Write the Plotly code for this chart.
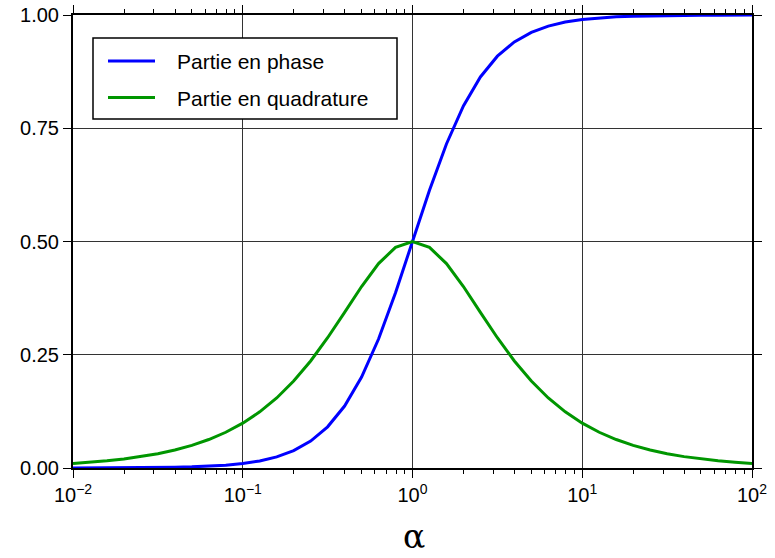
import plotly.graph_objects as go

# alpha values (10 samples per decade, 1e-2 .. 1e2)
alpha = [0.01, 0.01259, 0.01585, 0.01995, 0.02512, 0.03162, 0.03981, 0.05012, 0.0631, 0.07943,
         0.1, 0.1259, 0.1585, 0.1995, 0.2512, 0.3162, 0.3981, 0.5012, 0.631, 0.7943,
         1.0, 1.259, 1.585, 1.995, 2.512, 3.162, 3.981, 5.012, 6.31, 7.943,
         10.0, 12.59, 15.85, 19.95, 25.12, 31.62, 39.81, 50.12, 63.1, 79.43, 100.0]

phase = [0.0001, 0.00016, 0.00025, 0.0004, 0.00063, 0.001, 0.0016, 0.0025, 0.004, 0.0063,
         0.0099, 0.0156, 0.0245, 0.0383, 0.0594, 0.0909, 0.1368, 0.2008, 0.2847, 0.3869,
         0.5, 0.6131, 0.7153, 0.7992, 0.8632, 0.9091, 0.9406, 0.9617, 0.9755, 0.9844,
         0.9901, 0.9937, 0.996, 0.9975, 0.9984, 0.999, 0.9994, 0.9996, 0.9997, 0.9998, 0.9999]

quad = [0.01, 0.0126, 0.0158, 0.0199, 0.0251, 0.0316, 0.0398, 0.05, 0.0629, 0.0789,
        0.099, 0.1239, 0.1546, 0.1919, 0.2363, 0.2875, 0.3436, 0.4006, 0.4513, 0.487,
        0.5, 0.487, 0.4513, 0.4006, 0.3436, 0.2875, 0.2363, 0.1919, 0.1546, 0.1239,
        0.099, 0.0789, 0.0629, 0.05, 0.0398, 0.0316, 0.0251, 0.0199, 0.0158, 0.0126, 0.01]

series_names = ["Partie en phase", "Partie en quadrature"]
series_colors = ["#0000ff", "#009600"]

x_tickvals = [0.01, 0.1, 1, 10, 100]
x_ticktext = ["10<sup>\u22122</sup>", "10<sup>\u22121</sup>", "10<sup>0</sup>", "10<sup>1</sup>", "10<sup>2</sup>"]
x_minor = [m * d for d in [0.01, 0.1, 1, 10] for m in range(2, 10)]
y_tickvals = [0, 0.25, 0.5, 0.75, 1.0]
y_ticktext = ["0.00", "0.25", "0.50", "0.75", "1.00"]

fig = go.Figure()
for ys, name, col in zip([phase, quad], series_names, series_colors):
    fig.add_trace(go.Scatter(x=alpha, y=ys, mode="lines", name=name,
                             line=dict(color=col, width=3), showlegend=False))

W, H = 775, 558
L, R, T, B = 73, 752, 15, 468
pw, ph = R - L, B - T
def px(x):
    return (x - L) / pw
def py(y):
    return (B - y) / ph

fig.update_layout(
    width=W, height=H,
    margin=dict(l=L, r=W - R, t=T, b=H - B, autoexpand=False),
    plot_bgcolor="white", paper_bgcolor="white",
    font=dict(family="Liberation Sans, Arial, sans-serif", color="black"),
)
fig.update_xaxes(
    type="log", range=[-2, 2], automargin=False,
    tickmode="array", tickvals=x_tickvals, ticktext=x_ticktext,
    tickfont=dict(size=20), ticks="outside", ticklen=8, tickwidth=1, tickcolor="black",
    showgrid=True, gridcolor="#333", gridwidth=1,
    showline=True, linecolor="black", linewidth=2, mirror="ticks",
    minor=dict(tickmode="array", tickvals=x_minor, ticks="outside", ticklen=4,
               tickwidth=1, tickcolor="black", showgrid=False),
    zeroline=False,
)
fig.update_yaxes(
    range=[0, 1], automargin=False,
    tickmode="array", tickvals=y_tickvals, ticktext=y_ticktext,
    tickfont=dict(size=20), ticks="outside", ticklen=8, tickwidth=1, tickcolor="black",
    showgrid=True, gridcolor="#333", gridwidth=1,
    showline=True, linecolor="black", linewidth=2, mirror="ticks",
    zeroline=False,
)

# legend box drawn manually
fig.add_shape(type="rect", xref="paper", yref="paper",
              x0=px(93), x1=px(397), y0=py(119), y1=py(38),
              line=dict(color="black", width=1.5), fillcolor="white", layer="above")
for i, (name, col) in enumerate(zip(series_names, series_colors)):
    yy = [61, 97.5][i]
    fig.add_shape(type="line", xref="paper", yref="paper",
                  x0=px(108), x1=px(155), y0=py(yy), y1=py(yy),
                  line=dict(color=col, width=3), layer="above")
    fig.add_annotation(xref="paper", yref="paper", x=px(175), y=py(yy + 1),
                       text=name, showarrow=False, xanchor="left", yanchor="middle",
                       font=dict(size=21, color="black"))

fig.add_annotation(xref="paper", yref="paper", x=px(414), y=py(536),
                   text="\u03b1", showarrow=False, xanchor="center", yanchor="middle",
                   font=dict(size=33, family="DejaVu Serif, Liberation Serif, serif", color="black"))

fig.write_html("out.html")
